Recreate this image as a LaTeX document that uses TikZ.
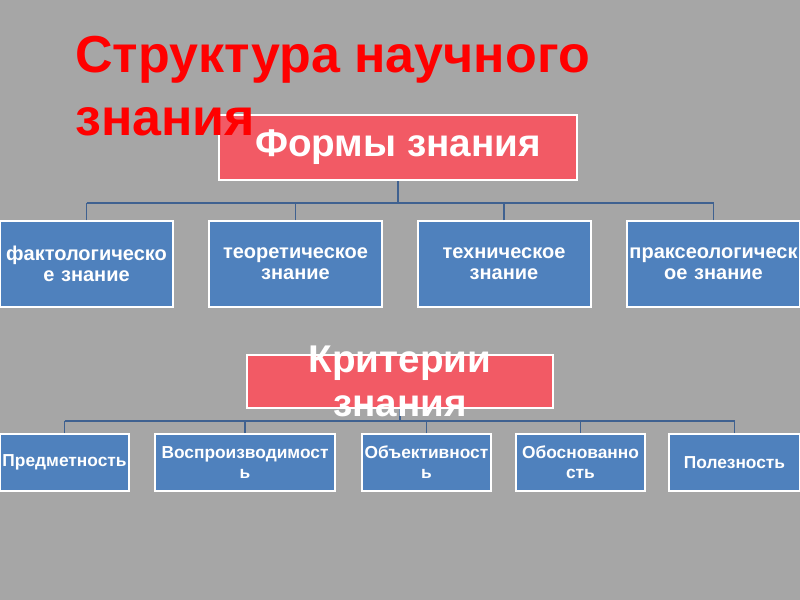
\documentclass[tikz,border=0pt]{standalone}
\usepackage{fontspec}
\setmainfont{Liberation Sans}
\definecolor{bgc}{HTML}{A6A6A6}
\definecolor{redbox}{HTML}{F25A65}
\definecolor{bluebox}{HTML}{4F81BD}
\definecolor{linec}{HTML}{3F6190}
\definecolor{titlered}{HTML}{FF0000}
\tikzset{
  headbox/.style={draw=white, line width=1.5pt, fill=redbox, inner sep=0pt},
  kidbox/.style={draw=white, line width=1.5pt, fill=bluebox, inner xsep=0pt, inner ysep=0pt, align=center, text=white, font=\bfseries\fontsize{15}{16}\selectfont},
  kidboxs/.style={kidbox, font=\bfseries\fontsize{13}{15}\selectfont},
  headtext/.style={text=white, align=center, inner sep=0pt, font=\bfseries\fontsize{29}{33}\selectfont},
  conn/.style={draw=linec, line width=1.2pt},
  titletext/.style={text=titlered, inner sep=0pt, anchor=base west, font=\bfseries\fontsize{39}{47}\selectfont}
}
\begin{document}
\begin{tikzpicture}[x=0.75pt, y=-0.75pt]
\useasboundingbox[fill=bgc] (0,0) rectangle (800,600);

% top section
\node[headbox, minimum width=268.5pt, minimum height=48.75pt] (forms) at (398,147.5) {};
\node[headtext] (formst) at (forms.center) {Формы знания};

\node[kidbox, text width=129.75pt, minimum height=64.5pt] (f1) at (86.5,264) {фактологическо\\е знание};
\node[kidbox, text width=129.75pt, minimum height=64.5pt] (f2) at (295.5,264) {теоретическое\\знание};
\node[kidbox, text width=129.75pt, minimum height=64.5pt] (f3) at (504,264) {техническое\\знание};
\node[kidbox, text width=129.75pt, minimum height=64.5pt] (f4) at (713.5,264) {праксеологическ\\ое знание};

\coordinate (bus1) at (0,203);
\draw[conn] (forms.south) -- (forms.south |- bus1);
\draw[conn] (f1.north |- bus1) -- (f4.north |- bus1);
\foreach \b in {f1,f2,f3,f4} \draw[conn] (\b.north) -- (\b.north |- bus1);

% bottom section
\node[headbox, minimum width=229.5pt, minimum height=39.75pt] (crit) at (400,381.5) {};

\node[kidboxs, text width=96.75pt, minimum height=42.75pt] (c1) at (64.5,462.5) {Предметность};
\node[kidboxs, text width=135pt, minimum height=42.75pt] (c2) at (245,462.5) {Воспроизводимост\\ь};
\node[kidboxs, text width=96.75pt, minimum height=42.75pt] (c3) at (426.5,462.5) {Объективност\\ь};
\node[kidboxs, text width=96.75pt, minimum height=42.75pt] (c4) at (580.5,462.5) {Обоснованно\\сть};
\node[kidboxs, text width=98.25pt, minimum height=42.75pt] (c5) at (734.5,462.5) {Полезность};

\coordinate (bus2) at (0,421);
\draw[conn] (crit.south) -- (crit.south |- bus2);
\draw[conn] (c1.north |- bus2) -- (c5.north |- bus2);
\foreach \b in {c1,c2,c3,c4,c5} \draw[conn] (\b.north) -- (\b.north |- bus2);

\node[headtext] (critt) at (crit.center) {Критерии\\знания};

% title
\node[titletext] (title1) at (75,72) {Структура научного};
\node[titletext] (title2) at (75,135) {знания};
\end{tikzpicture}
\end{document}
